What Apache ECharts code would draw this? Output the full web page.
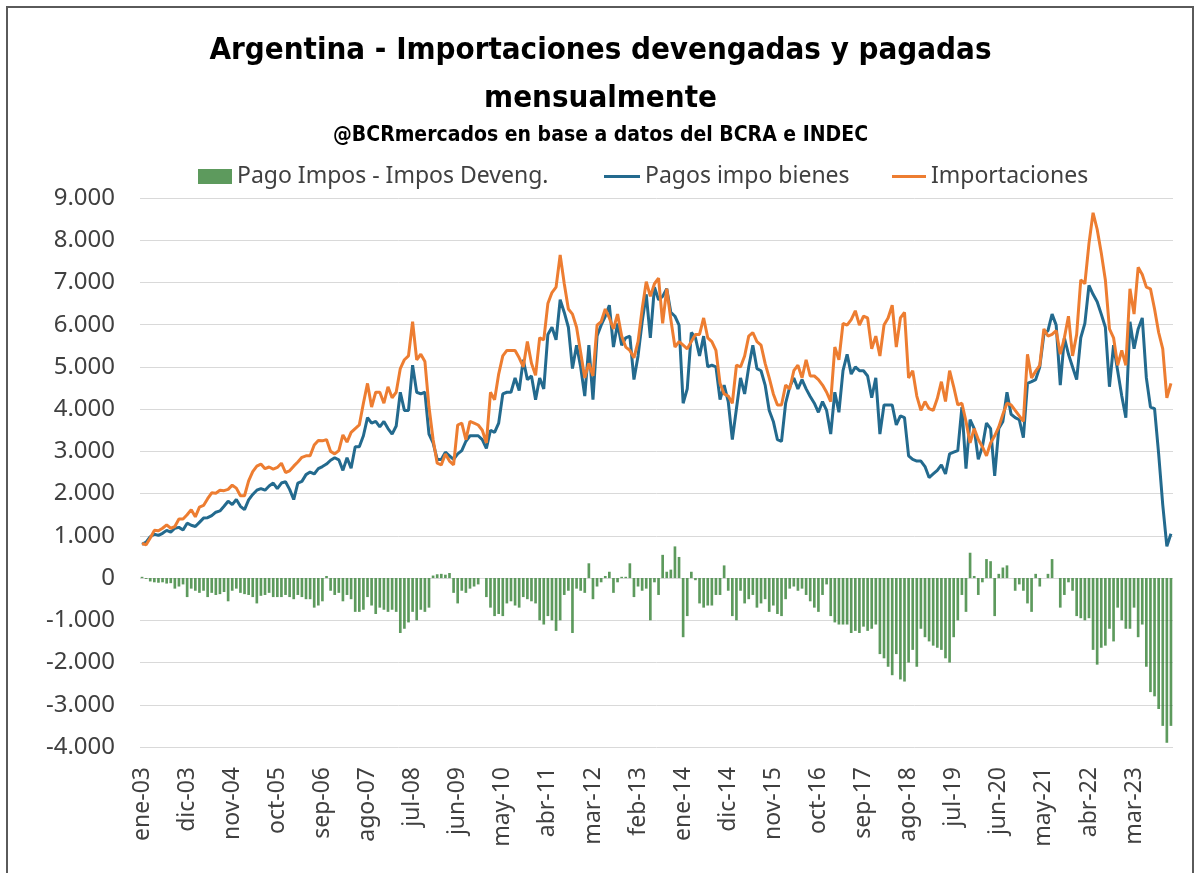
<!DOCTYPE html>
<html>
<head>
<meta charset="utf-8">
<script src="https://cdn.jsdelivr.net/npm/echarts@6/dist/echarts.min.js"></script>
<style>
  html, body { margin: 0; padding: 0; background: #fff; overflow: hidden; }
  #chart { position: absolute; left: 0; top: 0; width: 1201px; height: 873px; }
  #frame { position: absolute; left: 6px; top: 6px; width: 1188px; height: 900px;
           border: 2px solid #5a5a5a; box-sizing: border-box; pointer-events: none; }
</style>
</head>
<body>
<div id="chart"></div>
<div id="frame"></div>
<script>
// meses ene-03 .. dic-23
const monthNames = ['ene', 'feb', 'mar', 'abr', 'may', 'jun', 'jul', 'ago', 'sep', 'oct', 'nov', 'dic'];
const categories = [];
for (let y = 2003; y <= 2023; y++) {
  monthNames.forEach(m => categories.push(m + '-' + String(y).slice(2)));
}

// Importaciones (devengadas), millones USD
const importaciones = [
  820, 790, 950, 1130, 1120, 1180, 1260, 1180, 1220, 1400, 1400, 1500,
  1620, 1450, 1680, 1720, 1880, 2020, 2010, 2080, 2070, 2100, 2200, 2130,
  1950, 1950, 2300, 2520, 2650, 2700, 2590, 2630, 2580, 2620, 2720, 2500,
  2540, 2650, 2750, 2860, 2895, 2895, 3150, 3260, 3250, 3280, 3000, 2940,
  3020, 3390, 3220, 3450, 3540, 3625, 4140, 4610, 4050, 4400, 4400, 4140,
  4530, 4270, 4400, 4960, 5170, 5260, 6070, 5170, 5300, 5130, 4050, 3280,
  2720, 2680, 2940, 2770, 2680, 3625, 3670, 3280, 3710, 3670, 3625, 3500,
  3200, 4400, 4225, 4830, 5260, 5390, 5390, 5390, 5215, 5000, 5600, 5085,
  4800, 5690, 5640, 6500, 6760, 6890, 7650, 6970, 6370, 6250, 5940, 5340,
  4740, 5085, 4785, 5990, 6070, 6370, 6160, 5900, 6250, 5730, 5470, 5390,
  5215, 5600, 6370, 7020, 6670, 6970, 7100, 6030, 6850, 6120, 5470, 5600,
  5515, 5430, 5600, 5770, 5770, 6160, 5690, 5600, 5390, 4610, 4360, 4310,
  4140, 5040, 5000, 5260, 5730, 5815, 5600, 5515, 5085, 4740, 4360, 4100,
  4100, 4570, 4480, 4910, 5040, 4740, 5170, 4785, 4785, 4700, 4570, 4400,
  4180, 5470, 5170, 6030, 5990, 6120, 6330, 5990, 6200, 6160, 5430, 5730,
  5260, 5990, 6160, 6460, 5470, 6160, 6290, 4740, 4910, 4310, 3970, 4180,
  4010, 3970, 4250, 4650, 4180, 4910, 4530, 4100, 4140, 3710, 3200, 3540,
  3280, 3110, 2895, 3200, 3370, 3580, 3880, 4140, 4100, 3970, 3840, 3710,
  5300, 4740, 4900, 5040, 5900, 5730, 5770, 5860, 5300, 5690, 6200, 5260,
  5770, 7060, 6970, 7920, 8650, 8260, 7700, 7060, 5900, 5690, 5040, 5390,
  5040, 6850, 6250, 7360, 7190, 6890, 6850, 6370, 5815, 5430, 4270, 4610
];

// Pagos impo bienes, millones USD
const pagosImpo = [
  800, 850, 980, 1040, 1010, 1060, 1130, 1090, 1180, 1200, 1140, 1300,
  1250, 1220, 1320, 1420, 1430, 1480, 1560, 1590, 1700, 1820, 1740, 1860,
  1700, 1620, 1850, 1980, 2080, 2120, 2080, 2180, 2250, 2120, 2250, 2280,
  2100, 1860, 2250, 2290, 2450, 2510, 2465, 2590, 2640, 2700, 2790, 2850,
  2800, 2550, 2850, 2600, 3110, 3110, 3370, 3800, 3670, 3710, 3580, 3710,
  3540, 3410, 3600, 4400, 3970, 3970, 5040, 4400, 4360, 4400, 3410, 3200,
  2810, 2810, 2980, 2895, 2810, 2940, 3020, 3240, 3370, 3370, 3370, 3280,
  3070, 3500, 3450, 3670, 4360, 4400, 4400, 4740, 4440, 5170, 4700, 4785,
  4225, 4740, 4480, 5770, 5940, 5640, 6590, 6290, 5940, 4960, 5515, 5000,
  4310, 5515, 4225, 5730, 5990, 6200, 6460, 5470, 6030, 5515, 5690, 5730,
  4700, 5260, 6070, 6720, 5690, 6890, 6590, 6670, 6850, 6290, 6200, 5990,
  4140, 4480, 5815, 5690, 5260, 5730, 5000, 5040, 5000, 4225, 4570, 4180,
  3280, 4010, 4740, 4360, 5000, 5515, 4960, 4910, 4570, 3970, 3710, 3280,
  3240, 4140, 4530, 4740, 4480, 4700, 4480, 4300, 4140, 3925, 4180, 3970,
  3410, 4400, 3925, 4910, 5300, 4830, 5000, 4910, 4910, 4785, 4270, 4740,
  3410, 4100, 4100, 4100, 3625, 3840, 3800, 2895, 2810, 2770, 2770, 2640,
  2380, 2465, 2550, 2680, 2465, 2940, 2980, 3020, 4050, 2590, 3750, 3540,
  2810, 3110, 3670, 3540, 2420, 3540, 3710, 4400, 3880, 3800, 3750, 3325,
  4610, 4650, 4700, 5000, 5770, 5860, 6250, 5990, 4570, 5690, 5300, 5000,
  4700, 5690, 6030, 6930, 6720, 6545, 6250, 5940, 4530, 5515, 4910, 4310,
  3800, 6070, 5430, 5900, 6160, 4740, 4050, 4010, 2940, 1735, 750, 1050
];

// Pago Impos - Impos Deveng., millones USD
const diferencia = [
  30, -20, -80, -100, -110, -100, -130, -120, -250, -200, -150, -450,
  -250, -300, -350, -300, -450, -350, -400, -380, -330, -550, -300, -250,
  -350, -380, -400, -450, -600, -420, -400, -350, -450, -450, -450, -400,
  -450, -500, -400, -450, -500, -500, -700, -650, -550, 50, -300, -400,
  -350, -550, -400, -500, -800, -800, -750, -450, -650, -850, -700, -750,
  -800, -750, -800, -1300, -1200, -1050, -800, -1000, -750, -800, -700, 60,
  90, 100, 80, 120, -350, -600, -300, -350, -250, -200, -150, 0,
  -450, -700, -900, -850, -900, -600, -550, -650, -700, -450, -500, -550,
  -600, -1000, -1100, -900, -1000, -1250, -1000, -400, -300, -1300, -250, -300,
  -350, 350, -500, -200, -100, 50, 150, -350, -100, 30, 30, 350,
  -450, -200, -300, -250, -1000, -100, -400, 550, 150, 200, 750, 500,
  -1400, -900, 150, -50, -600, -700, -650, -650, -400, -400, 300, -300,
  -900, -1000, -300, -600, -500, -400, -700, -600, -500, -800, -650, -850,
  -900, -500, -250, -200, -300, -250, -400, -550, -700, -800, -400, -150,
  -900, -1050, -1100, -1100, -1100, -1300, -1250, -1300, -1150, -1250, -1200, -1100,
  -1800, -1900, -2100, -2300, -1800, -2400, -2450, -2000, -1700, -2100, -1200, -1400,
  -1500, -1600, -1650, -1700, -1900, -2000, -1400, -1000, -400, -800, 600, 50,
  -400, -100, 450, 400, -900, 100, 250, 300, 0, -300, -150, -300,
  -600, -800, 100, -200, 0, 100, 450, 0, -700, -400, -100, -300,
  -900, -950, -1000, -950, -1700, -2050, -1650, -1600, -1200, -1500, -700, -1000,
  -1200, -1200, -700, -1400, -1100, -2100, -2700, -2800, -3100, -3500, -3900, -3500
];

const titleFont = '"DejaVu Sans Condensed", "Liberation Sans Narrow", "Roboto", sans-serif';
const bodyFont = '"Noto Sans", "Open Sans", sans-serif';

function miles(v) {
  const s = String(Math.abs(v)).replace(/\B(?=(\d{3})+(?!\d))/g, '.');
  return (v < 0 ? '-' : '') + s;
}

const legendText = { fontFamily: bodyFont, fontSize: 23, color: '#404040' };

const chart = echarts.init(document.getElementById('chart'));

chart.setOption({
  backgroundColor: '#fff',
  animation: false,
  title: [
    {
      text: 'Argentina - Importaciones devengadas y pagadas\nmensualmente',
      left: 'center',
      top: 22,
      textStyle: { fontFamily: titleFont, fontWeight: 'bold', fontSize: 31, lineHeight: 48, color: '#000' }
    },
    {
      text: '@BCRmercados en base a datos del BCRA e INDEC',
      left: 'center',
      top: 120,
      textStyle: { fontFamily: titleFont, fontWeight: 'bold', fontSize: 21, color: '#000' }
    }
  ],
  legend: [
    {
      data: ['Pago Impos - Impos Deveng.'],
      left: 193, top: 160,
      icon: 'rect', itemWidth: 34, itemHeight: 15,
      textStyle: legendText
    },
    {
      data: ['Pagos impo bienes'],
      left: 599, top: 160,
      icon: 'rect', itemWidth: 36, itemHeight: 3,
      textStyle: legendText
    },
    {
      data: ['Importaciones'],
      left: 887, top: 160,
      icon: 'rect', itemWidth: 34, itemHeight: 3,
      textStyle: legendText
    }
  ],
  grid: { left: 140, right: 28, top: 198, bottom: 126 },
  xAxis: {
    type: 'category',
    data: categories,
    boundaryGap: true,
    axisLine: { show: false },
    axisTick: { show: false },
    axisLabel: {
      interval: 10,
      rotate: 90,
      margin: 20,
      fontFamily: bodyFont,
      fontSize: 23,
      color: '#404040'
    }
  },
  yAxis: {
    type: 'value',
    min: -4000,
    max: 9000,
    interval: 1000,
    axisLine: { show: false },
    axisTick: { show: false },
    axisLabel: {
      margin: 25,
      fontFamily: bodyFont,
      fontSize: 24,
      color: '#404040',
      formatter: miles
    },
    splitLine: { lineStyle: { color: '#d9d9d9', width: 1 } }
  },
  series: [
    {
      name: 'Pago Impos - Impos Deveng.',
      type: 'bar',
      data: diferencia,
      barWidth: '65%',
      itemStyle: { color: '#2f7d2f', opacity: 0.78 }
    },
    {
      name: 'Pagos impo bienes',
      type: 'line',
      data: pagosImpo,
      symbol: 'none',
      lineStyle: { color: '#236a8e', width: 3 },
      itemStyle: { color: '#236a8e' }
    },
    {
      name: 'Importaciones',
      type: 'line',
      data: importaciones,
      symbol: 'none',
      lineStyle: { color: '#ed7d31', width: 3 },
      itemStyle: { color: '#ed7d31' }
    }
  ]
});

window.addEventListener('resize', () => chart.resize());
</script>
</body>
</html>
